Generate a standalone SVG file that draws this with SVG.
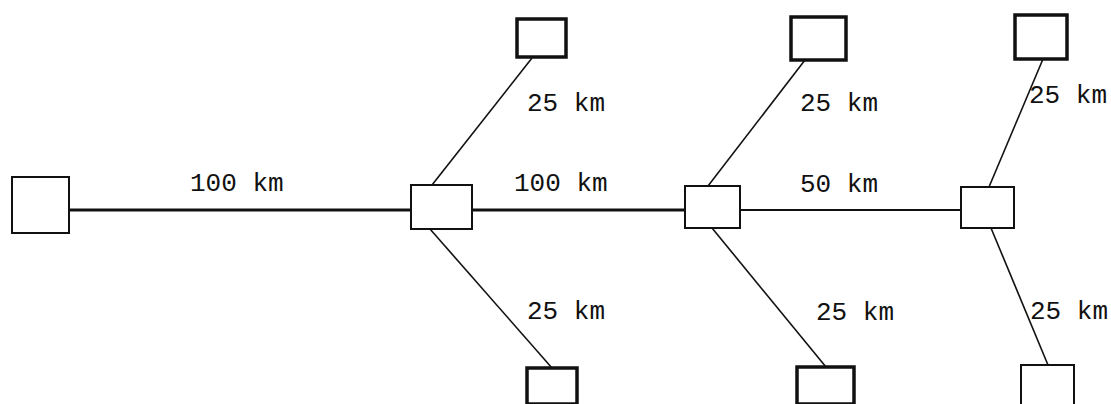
<svg xmlns="http://www.w3.org/2000/svg" width="1111" height="404" viewBox="0 0 1111 404">
<style>
.box{fill:#fff;stroke:#111;stroke-width:2}
.end{fill:#fff;stroke:#111;stroke-width:3.5}
.thick{stroke:#111;stroke-width:3;fill:none}
.thin{stroke:#111;stroke-width:1.8;fill:none}
.diag{stroke:#111;stroke-width:1.6;fill:none}
text{font-family:"Liberation Mono","Courier New",monospace;font-size:26px;fill:#111}
</style>
<rect width="1111" height="404" fill="#fff"/>
<g id="connectors">
<line class="thick" x1="70" y1="210" x2="411" y2="210"/>
<line class="thick" x1="472" y1="210" x2="685" y2="210"/>
<line class="thin" x1="740" y1="210" x2="961" y2="210"/>
<line class="diag" x1="532" y1="58" x2="432" y2="185"/>
<line class="diag" x1="430" y1="229" x2="552" y2="368"/>
<line class="diag" x1="805" y1="60" x2="708" y2="186"/>
<line class="diag" x1="712" y1="228" x2="826" y2="367"/>
<line class="diag" x1="1043" y1="59" x2="989" y2="187"/>
<line class="diag" x1="991" y1="228" x2="1048" y2="365"/>
</g>
<g id="labels">
<text x="190" y="191">100 km</text>
<text x="514" y="191">100 km</text>
<text x="800" y="192">50 km</text>
<text x="527" y="111">25 km</text>
<text x="527" y="319">25 km</text>
<text x="800" y="111">25 km</text>
<text x="816" y="320">25 km</text>
<text x="1029" y="103">25 km</text>
<text x="1030" y="319">25 km</text>
</g>
<g id="node-left"><rect class="box" x="12" y="177" width="57" height="56"/></g>
<g id="node-2"><rect class="box" x="411" y="185" width="61" height="44"/></g>
<g id="node-3"><rect class="box" x="685" y="186" width="55" height="42"/></g>
<g id="node-4"><rect class="box" x="961" y="187" width="53" height="41"/></g>
<g id="node-2-top"><rect class="end" x="517" y="19" width="49" height="38"/></g>
<g id="node-2-bottom"><rect class="end" x="527" y="368" width="50" height="36"/></g>
<g id="node-3-top"><rect class="end" x="791" y="17" width="55" height="43"/></g>
<g id="node-3-bottom"><rect class="end" x="797" y="367" width="57" height="37"/></g>
<g id="node-4-top"><rect class="end" x="1015" y="15" width="52" height="44"/></g>
<g id="node-4-bottom"><rect class="box" x="1021" y="365" width="53" height="40"/></g>
</svg>
